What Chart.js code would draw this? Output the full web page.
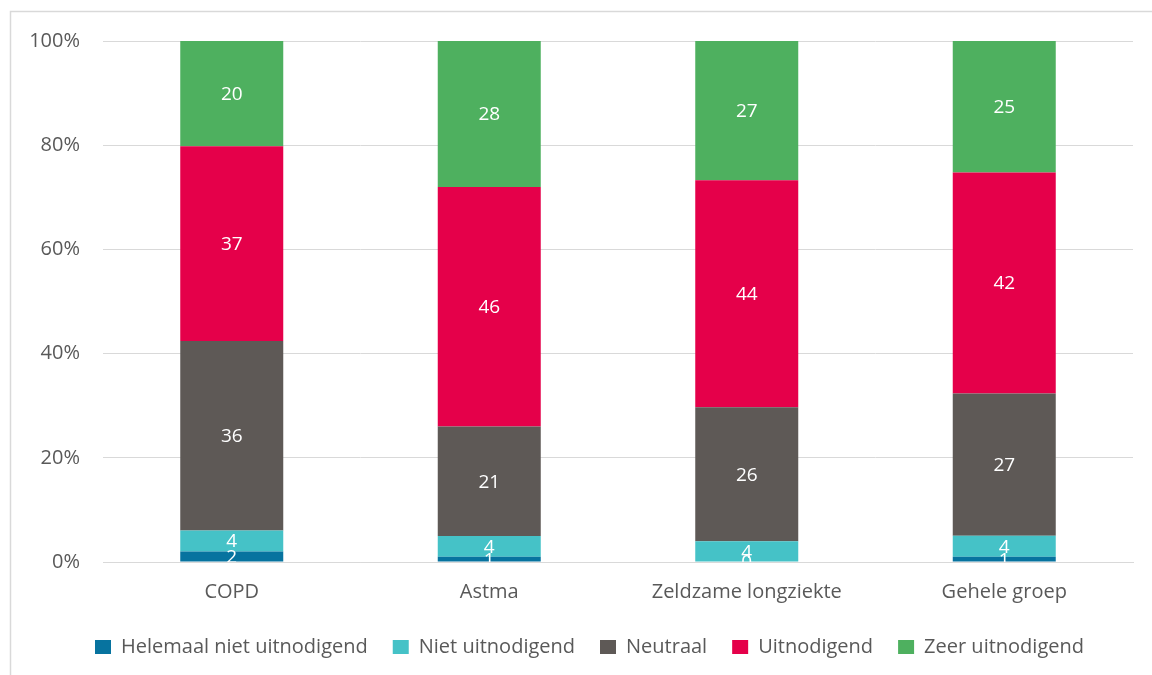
<!DOCTYPE html>
<html>
<head>
<meta charset="utf-8">
<script src="https://cdn.jsdelivr.net/npm/chart.js@4/dist/chart.umd.min.js"></script>
<style>
  html, body { margin: 0; padding: 0; background: #fff; }
  #wrap { width: 1152px; height: 675px; position: relative; }
</style>
</head>
<body>
<div id="wrap"><canvas id="chart" width="1152" height="675"></canvas></div>
<script>
// categories and answer counts (%)
const categories = ['COPD', 'Astma', 'Zeldzame longziekte', 'Gehele groep']
const seriesNames = ['Helemaal niet uitnodigend', 'Niet uitnodigend', 'Neutraal', 'Uitnodigend', 'Zeer uitnodigend']
const helemaalNiet = [2, 1, 0, 1]
const niet         = [4, 4, 4, 4]
const neutraal     = [36, 21, 26, 27]
const uitnodigend  = [37, 46, 44, 42]
const zeer         = [20, 28, 27, 25]
const yTicks = [0, 20, 40, 60, 80, 100]

const colors = ['#07739F', '#45C2C7', '#5E5956', '#E5004A', '#4EB05F']
const raw = [helemaalNiet, niet, neutraal, uitnodigend, zeer]

// 100% stacked: normalise each column
const totals = categories.map((_, i) => raw.reduce((s, arr) => s + arr[i], 0))

const FONT = '"Open Sans", Lato, sans-serif'
const GREY = '#595959'

const frame = {
  id: 'frame',
  beforeDraw(chart) {
    const c = chart.ctx
    c.save()
    c.strokeStyle = '#d9d9d9'
    c.lineWidth = 1.5
    c.strokeRect(10.5, 11.5, 1300, 800)
    c.restore()
  },
}

// legend sits a little right of the canvas centre in the original
const legendShift = {
  id: 'legendShift',
  afterLayout(chart) {
    chart.legend.left += 23
    chart.legend.right += 23
  },
}

// white value labels in the middle of each segment, clipped to the plot area
const valueLabels = {
  id: 'valueLabels',
  afterDatasetsDraw(chart) {
    const c = chart.ctx
    const a = chart.chartArea
    c.save()
    c.beginPath()
    c.rect(a.left, a.top, a.right - a.left, a.bottom - a.top)
    c.clip()
    c.fillStyle = '#fff'
    c.font = `19px ${FONT}`
    c.textAlign = 'center'
    c.textBaseline = 'middle'
    chart.data.datasets.forEach((ds, di) => {
      chart.getDatasetMeta(di).data.forEach((bar, i) => {
        c.fillText(String(ds.raw[i]), bar.x, (bar.y + bar.base) / 2 + 1)
      })
    })
    c.restore()
  },
}

new Chart(document.getElementById('chart'), {
  type: 'bar',
  data: {
    labels: categories,
    datasets: seriesNames.map((name, k) => ({
      label: name,
      raw: raw[k],
      data: raw[k].map((v, i) => v / totals[i] * 100),
      backgroundColor: colors[k],
      borderWidth: 0,
      barPercentage: 0.4,
      categoryPercentage: 1,
    })),
  },
  options: {
    responsive: false,
    animation: false,
    layout: { padding: { top: 41, right: 19, bottom: 8, left: 0 } },
    plugins: {
      legend: {
        position: 'bottom',
        labels: {
          color: GREY,
          font: { family: FONT, size: 20 },
          boxWidth: 16,
          boxHeight: 14,
          padding: 25,
        },
      },
      tooltip: { enabled: false },
    },
    scales: {
      x: {
        stacked: true,
        afterFit: s => { s.height = 50 },
        grid: { display: false, drawTicks: false },
        border: { color: '#d9d9d9', width: 1 },
        ticks: { color: GREY, font: { family: FONT, size: 20 }, padding: 18 },
      },
      y: {
        stacked: true,
        min: 0,
        max: 100,
        afterFit: s => { s.width = 103 },
        afterBuildTicks: s => { s.ticks = yTicks.map(v => ({ value: v })) },
        grid: { color: '#d9d9d9', drawTicks: false },
        border: { display: false },
        ticks: {
          color: GREY,
          font: { family: FONT, size: 20 },
          padding: 23,
          callback: v => `${v}%`,
        },
      },
    },
  },
  plugins: [frame, legendShift, valueLabels],
})
</script>
</body>
</html>
